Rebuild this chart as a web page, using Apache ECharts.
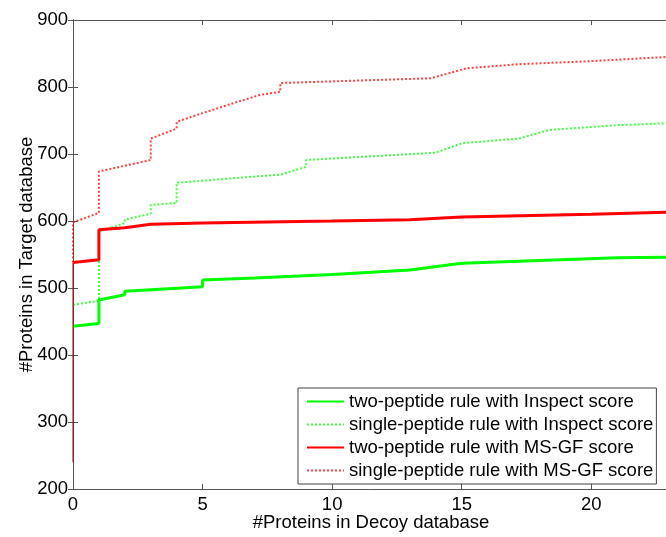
<!DOCTYPE html>
<html>
<head>
<meta charset="utf-8">
<script src="https://cdn.jsdelivr.net/npm/echarts@6/dist/echarts.min.js"></script>
<style>
	html, body { margin: 0; padding: 0; background: #fff; }
	#chart { width: 666px; height: 537px; }
</style>
</head>
<body>
<div id="chart"></div>
<script>
// two-peptide rule, Inspect score
var twoInspectX = [0, 1, 1, 2, 2, 5, 5, 7, 10, 13, 15, 18, 21, 23];
var twoInspectY = [443, 447, 482, 490, 495, 502, 512, 515, 520, 527, 537, 541, 545, 546];
// single-peptide rule, Inspect score
var singleInspectX = [0, 1, 1, 2, 2, 3, 3, 4, 4, 7.2, 8, 9, 9, 14, 15, 17.2, 18.4, 21, 23];
var singleInspectY = [475, 481, 584, 597, 602, 611, 624, 627, 657, 667, 669, 681, 691, 702, 716, 723, 736, 743, 746];
// two-peptide rule, MS-GF score (first rise sits on the y axis)
var twoMsgfStartX = [0, 0];
var twoMsgfStartY = [240, 538];
var twoMsgfX = [0, 1, 1, 2, 3, 5, 10, 13, 15, 20, 23];
var twoMsgfY = [538, 542, 587, 590, 595, 597, 600, 602, 606, 610, 613];
// single-peptide rule, MS-GF score
var singleMsgfX = [0, 0, 1, 1, 3, 3, 4, 4, 5, 6.2, 7.2, 8, 8, 13.8, 15.2, 17.2, 19.7, 23];
var singleMsgfY = [538, 598, 612, 674, 691, 723, 738, 748, 761, 776, 788, 793, 806, 813, 828, 834, 838, 845];

var seriesNames = [
	'two-peptide rule with Inspect score',
	'single-peptide rule with Inspect score',
	'two-peptide rule with MS-GF score',
	'single-peptide rule with MS-GF score'
];
var xTicks = [0, 5, 10, 15, 20];
var yTicks = [200, 300, 400, 500, 600, 700, 800, 900];

function pairs(xs, ys) {
	let out = [];
	for (let i = 0; i < xs.length; i++) {
		out.push([xs[i], ys[i]]);
	}
	return out;
}

let font = 'Liberation Sans, Arial, sans-serif';
let axisColor = '#555';
let fs = 18.5;

let chart = echarts.init(document.getElementById('chart'));

let tickStyle = { inside: true, length: 5, lineStyle: { color: axisColor } };

function makeLine(name, xs, ys, color, dotted, width) {
	return {
		name: name,
		type: 'line',
		data: pairs(xs, ys),
		symbol: 'none',
		animation: false,
		lineStyle: {
			color: color,
			width: width,
			type: dotted ? [2, 2] : 'solid',
			opacity: dotted ? 0.75 : 1
		},
		itemStyle: { color: color }
	};
}

let chartOption = {
	animation: false,
	grid: { left: 73, top: 20, right: -3, bottom: 48, containLabel: false, outerBoundsMode: 'none' },
	xAxis: [{
		type: 'value',
		min: 0,
		max: 23,
		interval: 5,
		name: '#Proteins in Decoy database',
		nameLocation: 'middle',
		nameGap: 24,
		nameMoveOverlap: false,
		nameTextStyle: { color: '#000', fontSize: fs, fontFamily: font },
		axisLine: { lineStyle: { color: axisColor } },
		axisTick: tickStyle,
		axisLabel: {
			color: '#000', fontSize: fs, fontFamily: font, margin: 6,
			formatter: function(v) { return xTicks.indexOf(v) >= 0 ? String(v) : ''; }
		},
		splitLine: { show: false }
	}, {
		type: 'value',
		position: 'top',
		min: 0,
		max: 23,
		interval: 5,
		axisLine: { lineStyle: { color: axisColor } },
		axisTick: tickStyle,
		axisLabel: { show: false },
		splitLine: { show: false }
	}],
	yAxis: [{
		type: 'value',
		min: 200,
		max: 900,
		interval: 100,
		name: '#Proteins in Target database',
		nameLocation: 'middle',
		nameGap: 37,
		nameMoveOverlap: false,
		nameTextStyle: { color: '#000', fontSize: fs, fontFamily: font },
		axisLine: { lineStyle: { color: axisColor } },
		axisTick: tickStyle,
		axisLabel: {
			color: '#000', fontSize: fs, fontFamily: font, margin: 5, padding: [5, 0, 0, 0],
			formatter: function(v) { return yTicks.indexOf(v) >= 0 ? String(v) : ''; }
		},
		splitLine: { show: false }
	}, {
		type: 'value',
		position: 'right',
		min: 200,
		max: 900,
		interval: 100,
		axisLine: { show: true, lineStyle: { color: axisColor } },
		axisTick: tickStyle,
		axisLabel: { show: false },
		splitLine: { show: false }
	}],
	legend: {
		orient: 'vertical',
		left: 298,
		top: 388,
		padding: [4, 3, 4, 8],
		itemGap: 4,
		itemWidth: 37,
		itemHeight: 14,
		borderColor: '#444',
		borderWidth: 1,
		backgroundColor: '#fff',
		itemStyle: { opacity: 0 },
		textStyle: { color: '#000', fontSize: fs, fontFamily: font },
		data: seriesNames
	},
	series: [
		makeLine(seriesNames[0], twoInspectX, twoInspectY, '#00ff00', false, 3),
		makeLine(seriesNames[1], singleInspectX, singleInspectY, '#00ff00', true, 2),
		makeLine('msgf-start', twoMsgfStartX, twoMsgfStartY, '#a00000', false, 1),
		makeLine(seriesNames[2], twoMsgfX, twoMsgfY, '#ff0000', false, 3),
		makeLine(seriesNames[3], singleMsgfX, singleMsgfY, '#ff0000', true, 2)
	]
};

chart.setOption(chartOption);
</script>
</body>
</html>
